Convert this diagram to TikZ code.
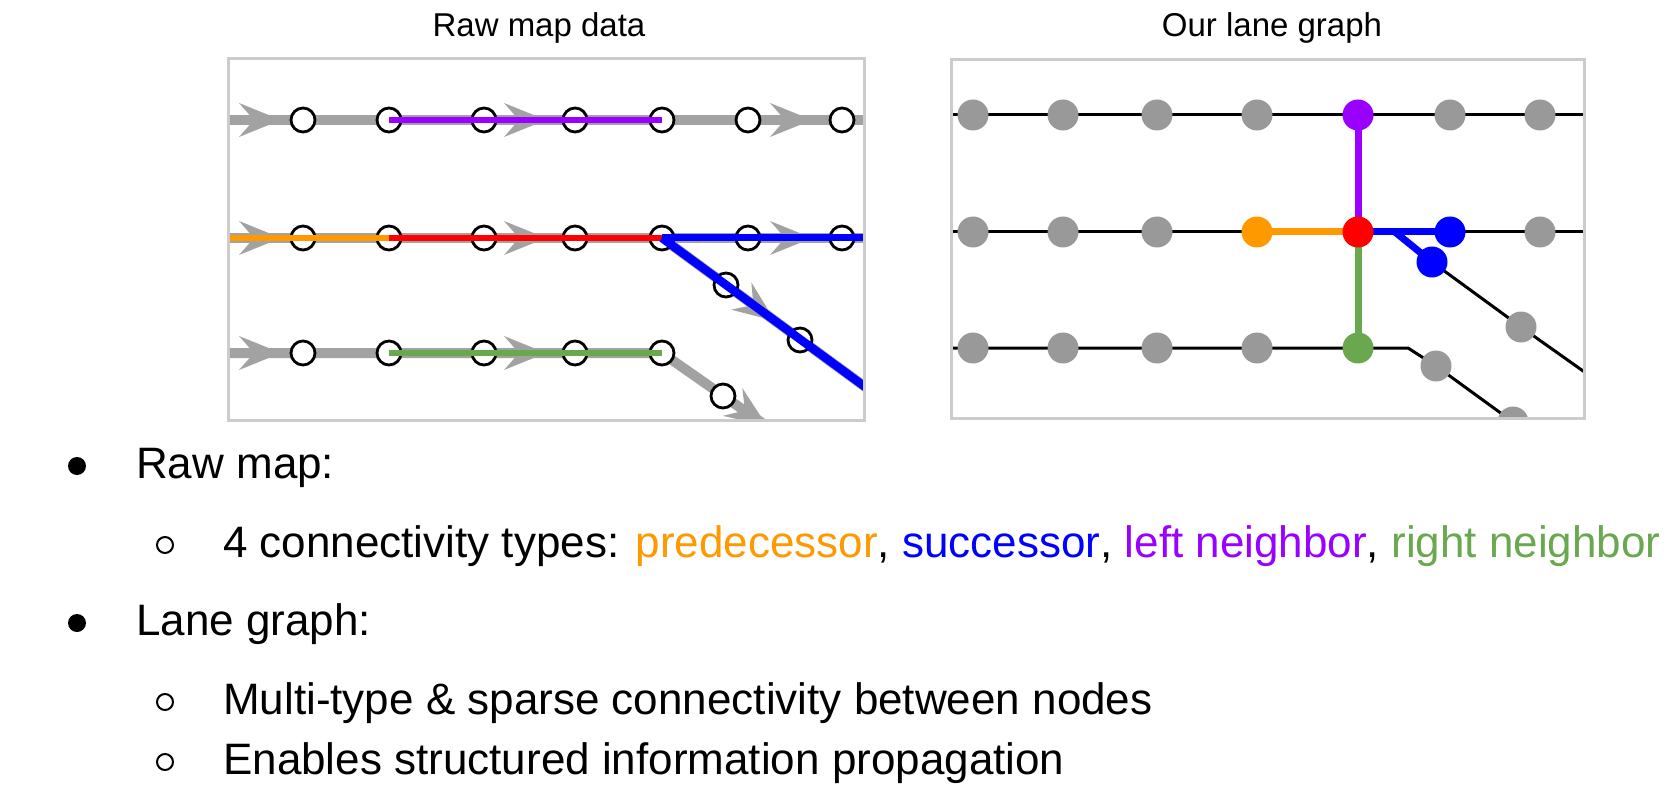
\documentclass[tikz,border=0pt]{standalone}
\usepackage{fontspec}
\setmainfont{Liberation Sans}
\definecolor{lanegray}{HTML}{A2A2A2}
\definecolor{nodegray}{HTML}{999999}
\definecolor{framegray}{HTML}{CCCCCC}
\definecolor{corange}{HTML}{FF9900}
\definecolor{cblue}{HTML}{0000FF}
\definecolor{cpurple}{HTML}{9900FF}
\definecolor{cgreen}{HTML}{6AA84F}
\definecolor{cred}{HTML}{FF0000}
\begin{document}
\begin{tikzpicture}[x=1pt,y=-1pt,
  frame/.style={draw=framegray,line width=3pt},
  lane/.style={draw=lanegray,line width=10pt},
  ring/.style={circle,draw=black,fill=white,line width=2.8pt,minimum size=24pt,inner sep=0pt},
  hl/.style={line width=6.8pt},
  blk/.style={draw=black,line width=3pt},
  edge/.style={line width=7pt},
  bedge/.style={line width=8.5pt},
  dot/.style={circle,fill=#1,minimum size=31pt,inner sep=0pt},
  title/.style={font=\fontsize{33}{40}\selectfont,anchor=base,inner sep=0pt},
  body/.style={font=\fontsize{44}{52}\selectfont,anchor=base west,inner sep=0pt},
  chev/.pic={\fill[lanegray] (0,0) -- (-42,-17) -- (-27,0) -- (-42,17) -- cycle;}
]
\useasboundingbox (0,0) rectangle (1672,786);

% ---------- titles ----------
\node[title] (t1) at (539,37) {Raw map data};
\node[title] (t2) at (1272,37) {Our lane graph};

% ---------- left panel: raw map data ----------
\begin{scope}
\clip (228,59) rectangle (864,420);
\foreach \x [count=\i] in {303,389,484,575,662,748,842} {
  \coordinate (a1\i) at (\x,120);
  \coordinate (a2\i) at (\x,238);
}
\foreach \x [count=\i] in {303,389,484,575,662} {
  \coordinate (a3\i) at (\x,353);
}
\coordinate (d1) at (726,285);
\coordinate (d2) at (800,340);
\coordinate (d3) at (723,396);
\coordinate (w1) at (228,120); \coordinate (e1) at (864,120);
\coordinate (w2) at (228,238); \coordinate (e2) at (864,238);
\coordinate (w3) at (228,353);
\coordinate (s2) at (868,389);
\coordinate (s3) at (775,432);
% gray lanes
\draw[lane] (w1) -- (e1);
\draw[lane] (w2) -- (e2);
\draw[lane] (a25) -- (s2);
\draw[lane] (w3) -- (a35) -- (s3);
% direction chevrons
\foreach \x in {281,546,812} {
  \pic at (\x,120) {chev};
  \pic at (\x,238) {chev};
}
\foreach \x in {281,546} { \pic at (\x,353) {chev}; }
\pic[rotate=-36.5] at (775,321) {chev};
\pic[rotate=-35] at (767,426) {chev};
% lane points
\foreach \i in {1,...,7} {
  \node[ring] (L1\i) at (a1\i) {};
  \node[ring] (L2\i) at (a2\i) {};
}
\foreach \i in {1,...,5} { \node[ring] (L3\i) at (a3\i) {}; }
\node[ring] (D1) at (d1) {};
\node[ring] (D2) at (d2) {};
\node[ring] (D3) at (d3) {};
% highlighted connectivity
\draw[hl,cpurple] (L12.center) -- (L15.center);
\draw[hl,corange] (w2) -- (L22.center);
\draw[hl,cred] (L22.center) -- (L25.center);
\draw[edge,cblue] (L25.center) -- (e2);
\draw[bedge,cblue] (L25.center) -- (s2);
\draw[hl,cgreen] (L32.center) -- (L35.center);
\end{scope}
\draw[frame] (228,59) rectangle (864,420);

% ---------- right panel: lane graph ----------
\begin{scope}
\clip (951,60) rectangle (1584,418);
\foreach \x [count=\i] in {973,1063,1157,1257,1358,1450,1540} {
  \coordinate (b1\i) at (\x,115);
  \coordinate (b2\i) at (\x,232);
}
\foreach \x [count=\i] in {973,1063,1157,1257,1358} {
  \coordinate (b3\i) at (\x,348);
}
\coordinate (f1) at (1432,262);
\coordinate (f2) at (1521,327);
\coordinate (f3) at (1436,366);
\coordinate (f4) at (1513,422);
\coordinate (bend) at (1408,348);
\coordinate (fork) at (1395,232);
\coordinate (W1) at (951,115); \coordinate (E1) at (1584,115);
\coordinate (W2) at (951,232); \coordinate (E2) at (1584,232);
\coordinate (W3) at (951,348);
\coordinate (X1) at (1600,383);
\coordinate (X2) at (1545,445);
% black lane edges
\draw[blk] (W1) -- (E1);
\draw[blk] (W2) -- (E2);
\draw[blk] (W3) -- (bend) -- (f3) -- (f4) -- (X2);
\draw[blk] (fork) -- (f1) -- (f2) -- (X1);
% typed edges
\draw[edge,cpurple] (b15) -- (b25);
\draw[edge,corange] (b24) -- (b25);
\draw[edge,cgreen] (b25) -- (b35);
\draw[edge,cblue] (b25) -- (b26);
\draw[edge,cblue] (fork) -- (f1);
% nodes
\foreach \i in {1,2,3,4,6,7} { \node[dot=nodegray] (N1\i) at (b1\i) {}; }
\node[dot=cpurple] (N15) at (b15) {};
\foreach \i in {1,2,3,7} { \node[dot=nodegray] (N2\i) at (b2\i) {}; }
\node[dot=corange] (N24) at (b24) {};
\node[dot=cred] (N25) at (b25) {};
\node[dot=cblue] (N26) at (b26) {};
\foreach \i in {1,2,3,4} { \node[dot=nodegray] (N3\i) at (b3\i) {}; }
\node[dot=cgreen] (N35) at (b35) {};
\node[dot=cblue] (F1) at (f1) {};
\node[dot=nodegray] (F2) at (f2) {};
\node[dot=nodegray] (F3) at (f3) {};
\node[dot=nodegray] (F4) at (f4) {};
\end{scope}
\draw[frame] (951,60) rectangle (1584,418);

% ---------- bullet text ----------
\fill (77,466) circle (9);
\node[body] (r1) at (136,478) {Raw map:};
\draw[line width=2pt] (165,545) circle (8);
\node[body] (r2) at (223,557) {4 connectivity types: \textcolor{corange}{predecessor}, \textcolor{cblue}{successor}, \textcolor{cpurple}{left neighbor}, \textcolor{cgreen}{right neighbor}};
\fill (77,623) circle (9);
\node[body] (r3) at (136,635) {Lane graph:};
\draw[line width=2pt] (165,702) circle (8);
\node[body] (r4) at (223,714) {Multi-type \& sparse connectivity between nodes};
\draw[line width=2pt] (165,762) circle (8);
\node[body] (r5) at (223,774) {Enables structured information propagation};
\end{tikzpicture}
\end{document}
